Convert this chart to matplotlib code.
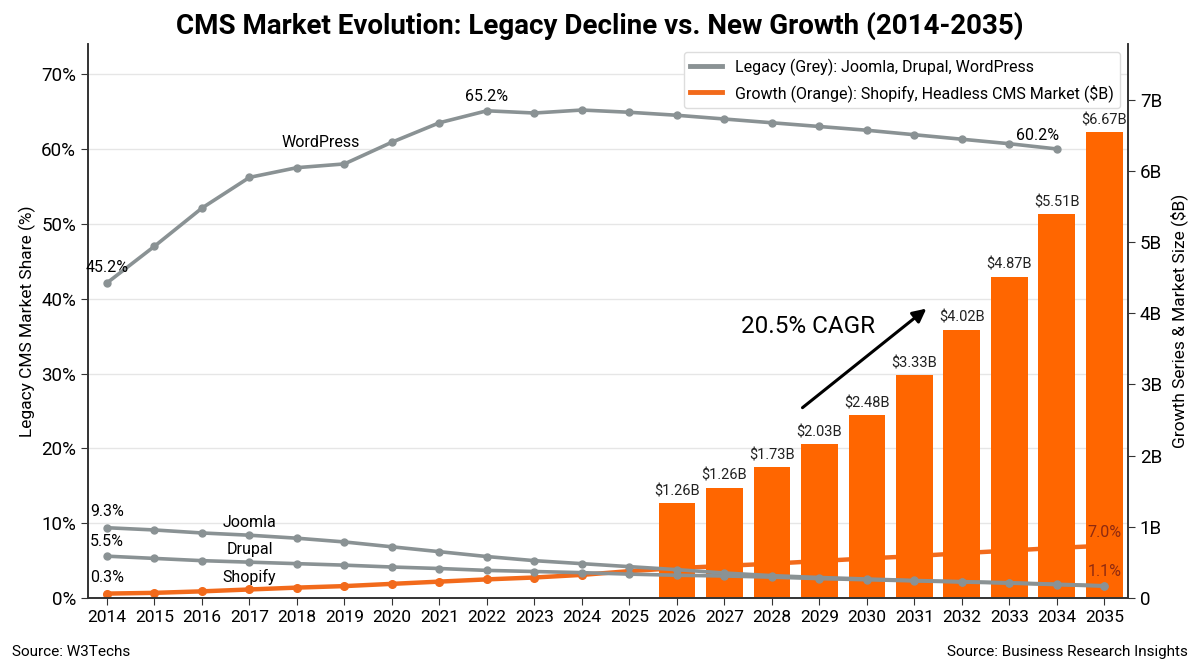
import matplotlib
matplotlib.use("Agg")
import matplotlib.pyplot as plt
from matplotlib.lines import Line2D

plt.rcParams['font.family'] = ['Roboto', 'DejaVu Sans']

# ---- data ----
years = list(range(2014, 2036))
wordpress = [42.1, 47.0, 52.1, 56.2, 57.5, 58.0, 60.9, 63.5, 65.1, 64.8, 65.2,
             64.9, 64.5, 64.0, 63.5, 63.0, 62.5, 61.9, 61.3, 60.7, 60.0]  # ends 2034
joomla = [9.4, 9.1, 8.7, 8.4, 8.0, 7.5, 6.85, 6.2, 5.55, 5.0, 4.6,
          4.2, 3.8, 3.35, 3.0, 2.75, 2.55, 2.35, 2.2, 2.05, 1.85, 1.65]
drupal = [5.6, 5.3, 5.0, 4.8, 4.6, 4.4, 4.15, 3.95, 3.7, 3.55, 3.4,
          3.2, 3.05, 2.95, 2.8, 2.6, 2.45, 2.3, 2.15, 2.0, 1.8, 1.6]
shopify = [0.6, 0.7, 0.9, 1.15, 1.4, 1.6, 1.9, 2.2, 2.5, 2.75, 3.1,
           3.6, 4.0, 4.3, 4.6, 4.95, 5.3, 5.6, 6.0, 6.35, 6.7, 7.0]

bar_years = list(range(2026, 2036))
headless = [1.33, 1.55, 1.84, 2.16, 2.57, 3.13, 3.77, 4.51, 5.39, 6.54]
bar_labels = ["$1.26B", "$1.26B", "$1.73B", "$2.03B", "$2.48B",
              "$3.33B", "$4.02B", "$4.87B", "$5.51B", "$6.67B"]

left_ticks = [0, 10, 20, 30, 40, 50, 60, 70]
right_ticks = [0, 1, 2, 3, 4, 5, 6, 7]
right_ticklabels = ["0", "1B", "2B", "3B", "4B", "5B", "6B", "7B"]

GREY = "#8a9294"
ORANGE_LINE = "#f26a1b"
ORANGE_BAR = "#ff6600"

fig = plt.figure(figsize=(12, 6.69), dpi=100)
ax = fig.add_axes([0.0733, 0.106, 0.8667, 0.828])
ax2 = ax.twinx()
ax.set_zorder(ax2.get_zorder() + 1)
ax.patch.set_visible(False)

L_TOP, R_TOP = 74.0, 7.78
ax.set_ylim(0, L_TOP)
ax2.set_ylim(0, R_TOP)
ax.set_xlim(2013.6, 2035.5)

# gridlines sit under the bars, so draw them on the lower axes
for t in left_ticks[1:]:
    ax2.axhline(t * R_TOP / L_TOP, color="#e6e6e6", lw=1.0, zorder=0)

# Shopify line goes under the bars (percent scale, drawn in the lower axes)
ax2.plot(years, shopify, color=ORANGE_LINE, lw=3.2, marker="o", markersize=5.5,
         transform=ax.transData, zorder=1)
ax2.set_ylim(0, R_TOP)

# bars
ax2.bar(bar_years, headless, width=0.77, color=ORANGE_BAR, zorder=2)
for x, h, lab in zip(bar_years, headless, bar_labels):
    ax2.text(x, h + 0.07, lab, ha="center", va="bottom", fontsize=10.5, color="#222222")

# grey lines on top
lkw = dict(lw=2.6, marker="o", markersize=5, solid_capstyle="round")
ax.plot(years[:len(wordpress)], wordpress, color=GREY, **lkw)
ax.plot(years, joomla, color=GREY, **lkw)
ax.plot(years, drupal, color=GREY, **lkw)

# series names and end labels
fs = 11.5
ax.text(2018.5, 60.9, "WordPress", ha="center", va="center", fontsize=fs)
ax.text(2017.0, 10.1, "Joomla", ha="center", va="center", fontsize=fs)
ax.text(2017.0, 6.5, "Drupal", ha="center", va="center", fontsize=fs)
ax.text(2017.0, 2.8, "Shopify", ha="center", va="center", fontsize=fs)
ax.text(2014, 44.1, "45.2%", ha="center", va="center", fontsize=fs)
ax.text(2014, 11.6, "9.3%", ha="center", va="center", fontsize=fs)
ax.text(2014, 7.6, "5.5%", ha="center", va="center", fontsize=fs)
ax.text(2014, 2.7, "0.3%", ha="center", va="center", fontsize=fs)
ax.text(2022, 67.0, "65.2%", ha="center", va="center", fontsize=fs)
ax.text(2033.6, 61.8, "60.2%", ha="center", va="center", fontsize=fs)
ax.text(2035, 8.7, "7.0%", ha="center", va="center", fontsize=fs, color="#8f2a10")
ax.text(2035, 3.6, "1.1%", ha="center", va="center", fontsize=fs, color="#8f2a10")

# CAGR arrow
ax2.annotate("", xy=(2031.3, 4.09), xytext=(2028.6, 2.65),
             arrowprops=dict(arrowstyle="-|>", lw=2.2, color="black", mutation_scale=20))
ax2.text(2028.76, 3.81, "20.5% CAGR", ha="center", va="center", fontsize=17.5)

# axes styling
ax.set_xticks(years)
ax.set_xticklabels([str(y) for y in years], fontsize=12.5)
ax.set_yticks(left_ticks)
ax.set_yticklabels([f"{t}%" for t in left_ticks], fontsize=13.5)
ax2.set_yticks(right_ticks)
ax2.set_yticklabels(right_ticklabels, fontsize=13.5)
ax.set_ylabel("Legacy CMS Market Share (%)", fontsize=12.5, labelpad=4)
ax2.set_ylabel("Growth Series & Market Size ($B)", fontsize=12.5, labelpad=6)
for a in (ax, ax2):
    a.spines["top"].set_visible(False)
    for s in ("left", "right", "bottom"):
        a.spines[s].set_color("#333333")
        a.spines[s].set_linewidth(1.2)
    a.tick_params(length=5, color="#333333")

handles = [Line2D([0], [0], color=GREY, lw=3.5),
           Line2D([0], [0], color=ORANGE_LINE, lw=3.5)]
ax.legend(handles, ["Legacy (Grey): Joomla, Drupal, WordPress",
                    "Growth (Orange): Shopify, Headless CMS Market ($B)"],
          loc="upper right", fontsize=11.5, frameon=True, edgecolor="#dddddd",
          framealpha=1.0, borderaxespad=0.5, handlelength=2.0)

fig.suptitle("CMS Market Evolution: Legacy Decline vs. New Growth (2014-2035)",
             fontsize=20, fontweight="bold", y=0.982)
fig.text(0.01, 0.025, "Source: W3Techs", fontsize=11, ha="left", va="center")
fig.text(0.99, 0.025, "Source: Business Research Insights", fontsize=11, ha="right", va="center")

fig.savefig("out.png", dpi=100)
